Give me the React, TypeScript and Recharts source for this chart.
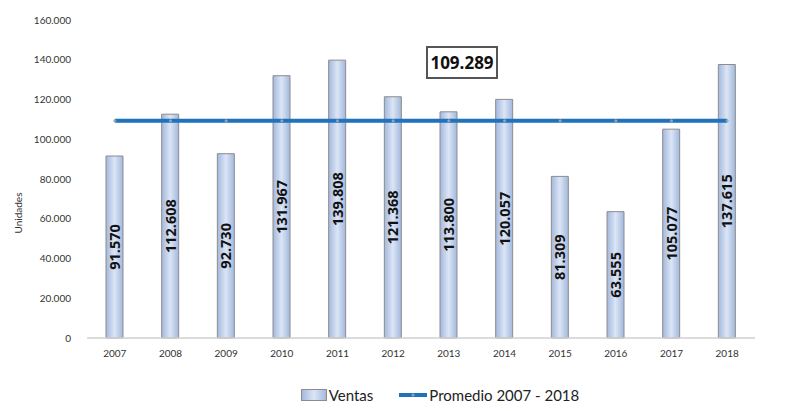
import React from 'react';
import {
  ComposedChart,
  Bar,
  Line,
  XAxis,
  YAxis,
  Legend,
  LabelList,
} from 'recharts';

const YEARS = ['2007', '2008', '2009', '2010', '2011', '2012', '2013', '2014', '2015', '2016', '2017', '2018'];
const VENTAS = [91570, 112608, 92730, 131967, 139808, 121368, 113800, 120057, 81309, 63555, 105077, 137615];
const PROMEDIO = [109289, 109289, 109289, 109289, 109289, 109289, 109289, 109289, 109289, 109289, 109289, 109289];
const Y_TICKS = [0, 20000, 40000, 60000, 80000, 100000, 120000, 140000, 160000];
const PROMEDIO_LABEL = '109.289';

const data = YEARS.map((year, i) => ({ year, ventas: VENTAS[i], promedio: PROMEDIO[i] }));

// 160000 -> "160.000"
const fmt = (v: number) => String(v).replace(/\B(?=(\d{3})+(?!\d))/g, '.');

const FONT = 'Lato, "Open Sans", sans-serif';
const BOLD_FONT = '"Open Sans", Lato, sans-serif';
const LINE_COLOR = '#1f73bd';

const BarValue = (props: any) => {
  const { x, y, width, height, value } = props;
  const cx = x + width / 2;
  const cy = y + height / 2;
  return (
    <text
      x={cx}
      y={cy}
      transform={`rotate(-90 ${cx} ${cy})`}
      textAnchor="middle"
      dominantBaseline="central"
      fontFamily={BOLD_FONT}
      fontWeight={700}
      fontSize={14.5}
      fill="#111"
    >
      {fmt(value)}
    </text>
  );
};

const LegendContent = () => (
  <div
    style={{
      display: 'flex',
      justifyContent: 'center',
      alignItems: 'center',
      fontFamily: FONT,
      fontSize: 15,
      color: '#222',
      height: 24,
      paddingLeft: 78,
    }}
  >
    <svg width={26} height={12} style={{ marginRight: 2 }}>
      <rect x={0.5} y={0.5} width={25} height={11} fill="url(#barFill)" stroke="#8c8c8c" />
    </svg>
    <span style={{ marginRight: 26 }}>Ventas</span>
    <svg width={28} height={12} style={{ marginRight: 2 }}>
      <line x1={0} y1={6} x2={28} y2={6} stroke={LINE_COLOR} strokeWidth={4} />
      <circle cx={14} cy={6} r={1.5} fill="#9aa3ad" />
    </svg>
    <span>Promedio 2007 - 2018</span>
  </div>
);

export default function App() {
  return (
    <div style={{ position: 'absolute', left: 0, top: 0, width: 802, height: 411, background: '#fff' }}>
      <ComposedChart
        width={802}
        height={411}
        data={data}
        margin={{ top: 20, right: 0, bottom: 4, left: 0 }}
        barCategoryGap={0}
      >
        <defs>
          <linearGradient id="barFill" x1="0" y1="0" x2="1" y2="0">
            <stop offset="0%" stopColor="#a3b8de" />
            <stop offset="50%" stopColor="#dbe5f5" />
            <stop offset="100%" stopColor="#a3b8de" />
          </linearGradient>
        </defs>
        <XAxis
          dataKey="year"
          height={45}
          tickLine={false}
          axisLine={{ stroke: '#d0d0d0', strokeWidth: 1.5 }}
          tick={{ fontFamily: FONT, fontSize: 10, fill: '#333' }}
          tickMargin={6}
        />
        <YAxis
          yAxisId="left"
          width={87}
          domain={[0, 160000]}
          ticks={Y_TICKS}
          tickFormatter={fmt}
          tickLine={false}
          axisLine={false}
          tickMargin={10}
          tick={{ fontFamily: FONT, fontSize: 10, fill: '#333' }}
          label={{
            value: 'Unidades',
            angle: -90,
            position: 'insideLeft',
            offset: 18,
            dy: 34,
            style: { fontFamily: FONT, fontSize: 10, fill: '#333', textAnchor: 'middle' },
          }}
        />
        <YAxis
          yAxisId="right"
          orientation="right"
          width={47}
          domain={[0, 160000]}
          ticks={Y_TICKS}
          tickFormatter={fmt}
          tickLine={false}
          axisLine={false}
          tickMargin={11}
          tick={{ fontFamily: FONT, fontSize: 10, fill: '#333', textAnchor: 'start' }}
        />
        <Bar
          yAxisId="left"
          dataKey="ventas"
          name="Ventas"
          barSize={17}
          fill="url(#barFill)"
          stroke="#8c8c8c"
          strokeWidth={1}
          isAnimationActive={false}
        >
          <LabelList dataKey="ventas" content={BarValue} />
        </Bar>
        <Line
          yAxisId="left"
          dataKey="promedio"
          name="Promedio 2007 - 2018"
          stroke={LINE_COLOR}
          strokeWidth={4}
          dot={{ r: 1.5, fill: '#9aa3ad', stroke: 'none' }}
          activeDot={false}
          isAnimationActive={false}
        />
        <Legend verticalAlign="bottom" content={LegendContent} />
      </ComposedChart>
      <div
        style={{
          position: 'absolute',
          left: 426,
          top: 46,
          width: 68,
          height: 29,
          border: '2px solid #555',
          background: '#fff',
          display: 'flex',
          alignItems: 'center',
          justifyContent: 'center',
          fontFamily: BOLD_FONT,
          fontWeight: 700,
          fontSize: 17,
          color: '#111',
        }}
      >
        {PROMEDIO_LABEL}
      </div>
    </div>
  );
}
